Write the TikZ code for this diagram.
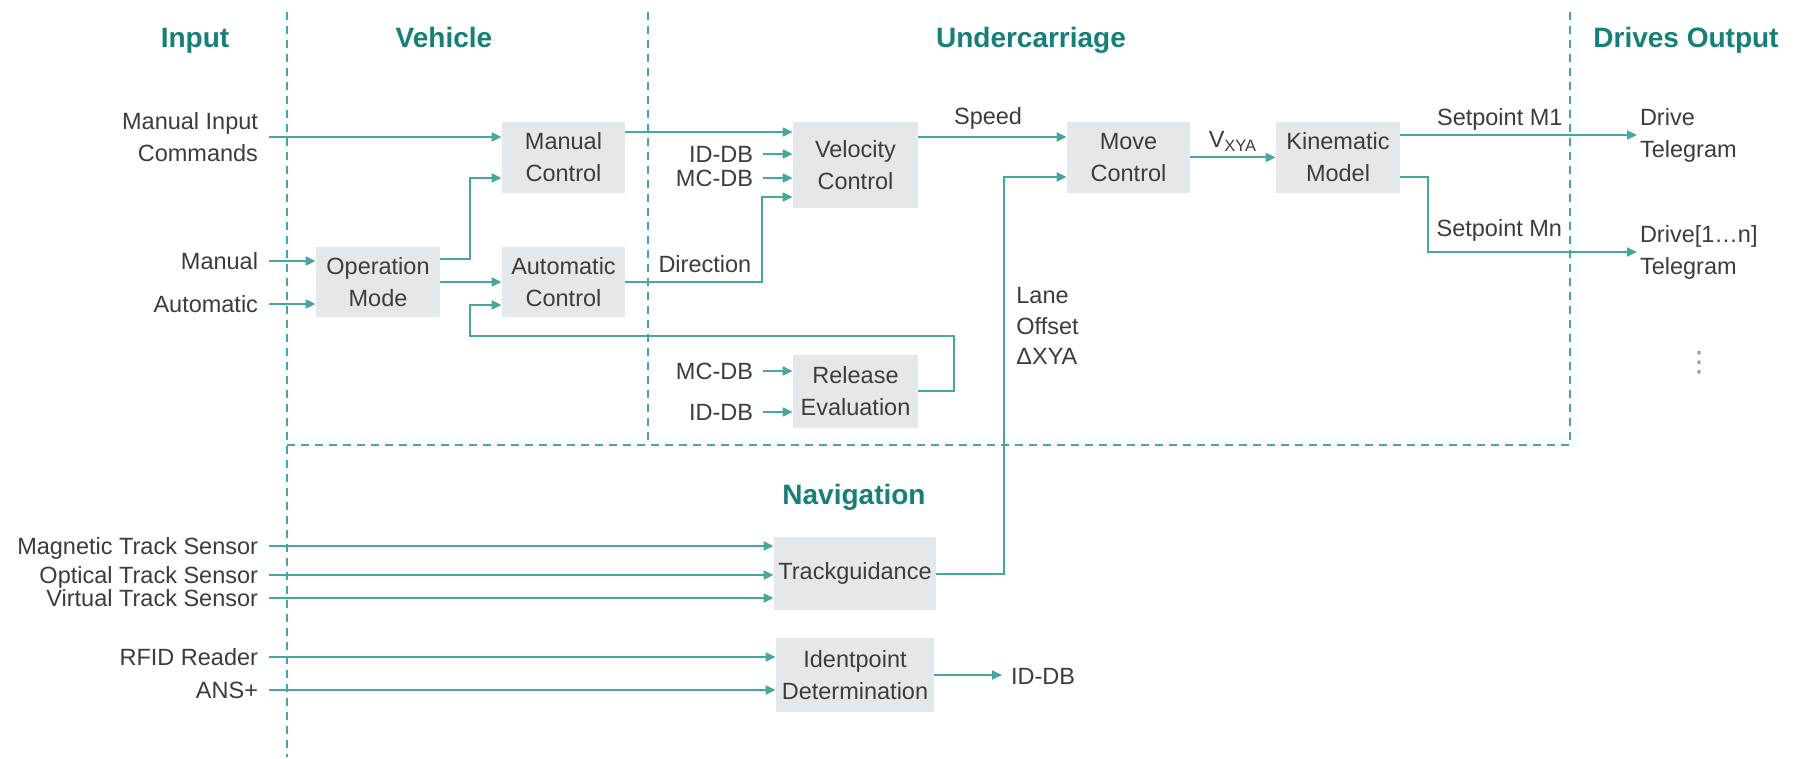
\documentclass[tikz,border=0pt]{standalone}
\usepackage{fontspec}
\setmainfont{Liberation Sans}
\newfontfamily\dejavu{DejaVu Sans}
\usetikzlibrary{arrows.meta,calc}
\definecolor{ln}{RGB}{72,166,160}
\definecolor{hd}{RGB}{22,128,120}
\definecolor{bx}{RGB}{229,232,235}
\definecolor{tx}{RGB}{60,60,60}
\definecolor{dotc}{RGB}{150,150,150}
\begin{document}
\begin{tikzpicture}[x=0.5pt,y=-0.5pt,
  every node/.style={font=\fontsize{11.75}{16}\selectfont, text=tx, inner sep=0pt},
  blk/.style n args={2}{fill=bx, align=center, minimum width=#1, minimum height=#2},
  lab/.style={align=right, anchor=east, outer xsep=5.5pt},
  one/.style={text depth=0pt},
  elab/.style={anchor=base},
  hdr/.style={font=\fontsize{14}{17}\selectfont\bfseries, text=hd, anchor=base},
  arr/.style={draw=ln, line width=1pt, -{Triangle[length=5pt,width=4.5pt]}},
  sepl/.style={draw=ln, line width=0.8pt, dash pattern=on 4pt off 3pt}]
\fill[white] (0,0) rectangle (1796,759);
\useasboundingbox (0,0) rectangle (1796,759);

% separators
\draw[sepl] (287,12) -- (287,757);
\draw[sepl] (648,12) -- (648,445);
\draw[sepl] (1570,12) -- (1570,445);
\draw[sepl] (287,445) -- (1570,445);

% headers
\node[hdr] (hIn) at (195,48) {Input};
\node[hdr] (hVe) at (444,48) {Vehicle};
\node[hdr] (hUn) at (1031,48) {Undercarriage};
\node[hdr] (hDo) at (1686,48) {Drives Output};
\node[hdr] (hNa) at (854,505) {Navigation};

% blocks
\node[blk={61.5pt}{35.5pt}] (mc) at (563.5,157.5) {Manual\\Control};
\node[blk={62pt}{35pt}] (om) at (378,282) {Operation\\Mode};
\node[blk={61.5pt}{35pt}] (ac) at (563.5,282) {Automatic\\Control};
\node[blk={62.5pt}{43pt}] (vc) at (855.5,165) {Velocity\\Control};
\node[blk={61.5pt}{35.5pt}] (mv) at (1128.5,157.5) {Move\\Control};
\node[blk={62pt}{35.5pt}] (km) at (1338,157.5) {Kinematic\\Model};
\node[blk={62.5pt}{36.5pt}] (re) at (855.5,391.5) {Release\\Evaluation};
\node[blk={81pt}{36.5pt}] (tg) at (855,573.5) {Trackguidance};
\node[blk={79pt}{37pt}] (ip) at (855,675) {Identpoint\\Determination};

% input labels
\node[lab] (mic) at (269,137) {Manual Input\\Commands};
\node[lab,one] (man) at (269,261) {Manual};
\node[lab,one] (aut) at (269,304) {Automatic};
\node[lab,one] (mag) at (269,546) {Magnetic Track Sensor};
\node[lab,one] (opt) at (269,575) {Optical Track Sensor};
\node[lab,one] (vir) at (269,598) {Virtual Track Sensor};
\node[lab,one] (rfid) at (269,657) {RFID Reader};
\node[lab,one] (ans) at (269,690) {ANS+};

\node[lab,one,outer xsep=5pt] (idb1) at (763,154) {ID-DB};
\node[lab,one,outer xsep=5pt] (mcdb1) at (763,178) {MC-DB};
\node[lab,one,outer xsep=5pt] (mcdb2) at (763,371) {MC-DB};
\node[lab,one,outer xsep=5pt] (idb2) at (763,412) {ID-DB};

% output labels
\node[anchor=west, align=left, outer xsep=1.5pt] (dt1) at (1637,135) {Drive\\Telegram};
\node[anchor=west, align=left, outer xsep=1.5pt] (dt2) at (1637,252) {Drive[1…n]\\Telegram};
\node[anchor=west, one, outer xsep=4.5pt] (idb3) at (1002,676) {ID-DB};
\node[anchor=north west, align=left, font=\fontsize{11.75}{15.25}\selectfont] (lane) at (1016,287) {Lane\\Offset\\ΔXYA};
\node[text=dotc, font=\dejavu\fontsize{14}{16}\selectfont] (vd) at (1699,363) {⋮};

% connectors
\draw[arr] (mic.east) -- (mic.east -| mc.west);
\draw[arr] (man.east) -- (man.east -| om.west);
\draw[arr] (aut.east) -- (aut.east -| om.west);
\draw[arr] ([yshift=11.5pt]om.east) -- ++(15pt,0) |- ([yshift=-10.25pt]mc.west);
\draw[arr] (om.east) -- (om.east -| ac.west);
\coordinate (fb) at (470,336);
\draw[arr] (re.east) -- ++(18pt,0) |- (fb) |- ([yshift=-11.5pt]ac.west);

\draw[arr] ([yshift=12.75pt]mc.east) -- ([yshift=12.75pt]mc.east -| vc.west);
\draw[arr] (idb1.east) -- (idb1.east -| vc.west);
\draw[arr] (mcdb1.east) -- (mcdb1.east -| vc.west);
\draw[arr] (ac.east) -- node[elab, pos=0.58, yshift=4.5pt] {Direction} ++(68.5pt,0) |- ([yshift=-16pt]vc.west);
\draw[arr] (mcdb2.east) -- (mcdb2.east -| re.west);
\draw[arr] (idb2.east) -- (idb2.east -| re.west);

\draw[arr] ([yshift=14pt]vc.east) -- node[elab, pos=0.47, yshift=6pt] {Speed} ([yshift=14pt]vc.east -| mv.west);
\draw[arr] (tg.east) -- ++(34pt,0) |- ([yshift=-9.75pt]mv.west);
\draw[arr] (mv.east) -- node[elab, yshift=5pt] {V\textsubscript{XYA}} (km.west);
\draw[arr] ([yshift=11.25pt]km.east) -- node[elab, pos=0.42, yshift=4.5pt] {Setpoint M1} ([yshift=11.25pt]km.east -| dt1.west);
\draw[arr] ([yshift=-9.75pt]km.east) -- ++(14pt,0) |- node[elab, pos=0.67, yshift=7.5pt] {Setpoint Mn} (dt2.west);

\draw[arr] (mag.east) -- (mag.east -| tg.west);
\draw[arr] (opt.east) -- (opt.east -| tg.west);
\draw[arr] (vir.east) -- (vir.east -| tg.west);
\draw[arr] (rfid.east) -- (rfid.east -| ip.west);
\draw[arr] (ans.east) -- (ans.east -| ip.west);
\draw[arr] (ip.east) -- (ip.east -| idb3.west);
\end{tikzpicture}
\end{document}
